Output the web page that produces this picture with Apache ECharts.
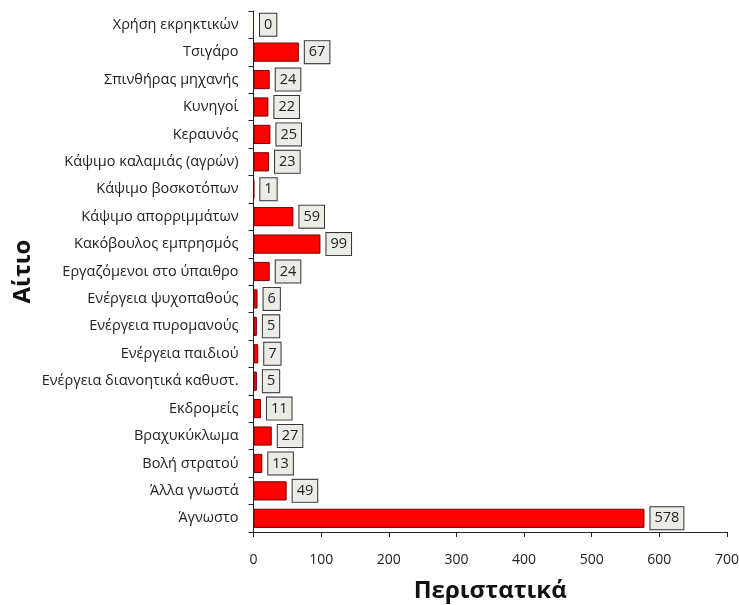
<!DOCTYPE html>
<html>
<head>
<meta charset="utf-8">
<script src="https://cdn.jsdelivr.net/npm/echarts@6/dist/echarts.min.js"></script>
<style>
  html, body { margin: 0; padding: 0; background: #ffffff; }
  #chart { width: 739px; height: 605px; }
</style>
</head>
<body>
<div id="chart"></div>
<script>
// Causes of fires (top to bottom as listed on the chart)
const causes = [
  'Χρήση εκρηκτικών',
  'Τσιγάρο',
  'Σπινθήρας μηχανής',
  'Κυνηγοί',
  'Κεραυνός',
  'Κάψιμο καλαμιάς (αγρών)',
  'Κάψιμο βοσκοτόπων',
  'Κάψιμο απορριμμάτων',
  'Κακόβουλος εμπρησμός',
  'Εργαζόμενοι στο ύπαιθρο',
  'Ενέργεια ψυχοπαθούς',
  'Ενέργεια πυρομανούς',
  'Ενέργεια παιδιού',
  'Ενέργεια διανοητικά καθυστ.',
  'Εκδρομείς',
  'Βραχυκύκλωμα',
  'Βολή στρατού',
  'Άλλα γνωστά',
  'Άγνωστο'
];
const incidents = [0, 67, 24, 22, 25, 23, 1, 59, 99, 24, 6, 5, 7, 5, 11, 27, 13, 49, 578];

const xTicks = { min: 0, max: 700, interval: 100 };

const font = '"Open Sans", "DejaVu Sans", sans-serif';

const chart = echarts.init(document.getElementById('chart'), null, { renderer: 'canvas' });

chart.setOption({
  animation: false,
  backgroundColor: '#ffffff',
  grid: { left: 253.5, right: 12, top: 11, bottom: 73, containLabel: false, outerBoundsMode: 'none' },
  xAxis: {
    type: 'value',
    min: xTicks.min,
    max: xTicks.max,
    interval: xTicks.interval,
    name: 'Περιστατικά',
    nameLocation: 'middle',
    nameGap: 47,
    nameMoveOverlap: false,
    nameTextStyle: { fontFamily: font, fontSize: 24, fontWeight: 'bold', color: '#111' },
    axisLine: { show: true, lineStyle: { color: '#222', width: 1 } },
    axisTick: { show: true, length: 5, lineStyle: { color: '#222' } },
    axisLabel: { fontFamily: font, fontSize: 14, color: '#222', margin: 21 },
    splitLine: { show: false }
  },
  yAxis: {
    type: 'category',
    inverse: true,
    data: causes,
    name: 'Αίτιο',
    nameLocation: 'middle',
    nameGap: 218,
    nameRotate: 90,
    nameMoveOverlap: false,
    nameTextStyle: { fontFamily: font, fontSize: 24, fontWeight: 'bold', color: '#111' },
    axisLine: { show: true, lineStyle: { color: '#222', width: 1 } },
    axisTick: { show: true, length: 5, lineStyle: { color: '#222' } },
    axisLabel: { fontFamily: font, fontSize: 14.5, color: '#222', margin: 15 }
  },
  series: [{
    type: 'bar',
    data: incidents,
    barCategoryGap: '30%',
    itemStyle: { color: '#ff0000', borderColor: '#7a0000', borderWidth: 1 },
    label: {
      show: true,
      position: 'right',
      distance: 6,
      fontFamily: font,
      fontSize: 14.5,
      lineHeight: 17,
      color: '#222',
      backgroundColor: '#ecebe6',
      borderColor: '#333',
      borderWidth: 1,
      padding: [3, 4, 2, 4]
    }
  }]
});
</script>
</body>
</html>
